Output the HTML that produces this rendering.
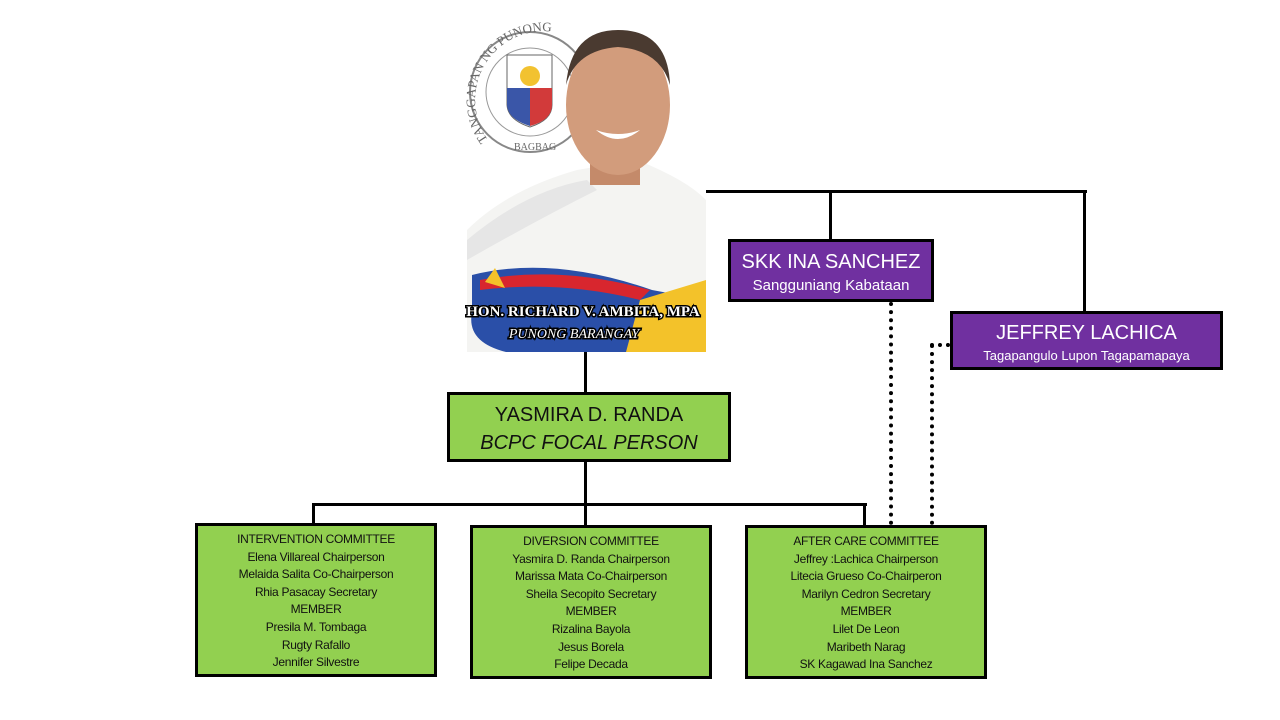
<!DOCTYPE html>
<html><head><meta charset="utf-8"><style>
body{margin:0;width:1280px;height:720px;background:#fff;position:relative;overflow:hidden;font-family:"Liberation Sans",sans-serif}
.b{position:absolute;box-sizing:border-box;border:3px solid #000;text-align:center;color:#fff}
.p{background:#7030A0}
.g{background:#92D050;color:#111}
.c{font-size:12px;line-height:17.6px;padding-top:5px;letter-spacing:-0.3px}
.l{position:absolute;background:#000}
.d{position:absolute;border-left:4px dotted #000}
</style></head><body>
<svg style="position:absolute;left:0;top:0" width="1280" height="720">
 <defs><path id="arc" d="M488 140 A52 52 0 1 1 600 60"/></defs>
 <!-- seal -->
 <circle cx="530" cy="92" r="60" fill="#fff" stroke="#888" stroke-width="2"/>
 <circle cx="530" cy="92" r="44" fill="none" stroke="#999" stroke-width="1"/>
 <text font-family="Liberation Serif" font-size="13" fill="#666"><textPath href="#arc">TANGGAPAN NG PUNONG</textPath></text>
 <text x="514" y="150" font-family="Liberation Serif" font-size="10" fill="#666">BAGBAG</text>
 <path d="M507 55 h45 v50 q0 15 -22 22 q-22 -7 -23 -22z" fill="#fff" stroke="#666"/>
 <path d="M507 88 h23 v38 q-23 -7 -23 -22z" fill="#3a56a8"/>
 <path d="M530 88 h22 v17 q0 15 -22 21z" fill="#d23a3a"/>
 <circle cx="530" cy="76" r="10" fill="#f2c230"/>
 <!-- person -->
 <path d="M467 230 q40 -40 110 -60 l60 -10 q50 20 69 40 v152 h-239z" fill="#f4f4f2"/>
 <path d="M467 240 q60 -50 120 -60 l10 10 q-60 30 -130 70z" fill="#e6e6e6"/>
 <rect x="590" y="140" width="50" height="45" fill="#c48a6a"/>
 <ellipse cx="618" cy="105" rx="52" ry="70" fill="#d29c7c"/>
 <path d="M566 85 q5 -55 52 -55 q50 0 52 55 q-10 -35 -52 -38 q-42 3 -52 38z" fill="#4a3a30"/>
 <path d="M596 130 q22 18 44 0 q-22 8 -44 0z" fill="#fff"/>
 <path d="M472 275 q80 -20 180 15 l54 10 v52 h-200 q-40 -10 -34 -40z" fill="#2a4fa8"/>
 <path d="M480 280 q80 -15 170 10 l-10 10 q-80 -20 -160 -10z" fill="#d8262e"/>
 <path d="M640 300 l66 -20 v72 h-80z" fill="#f3c22a"/>
 <polygon points="495,268 505,288 485,282" fill="#f3c22a"/>
 <text x="583" y="316" text-anchor="middle" font-family="Liberation Serif" font-weight="bold" font-size="15" fill="#fff" stroke="#000" stroke-width="3" paint-order="stroke">HON. RICHARD V. AMBITA, MPA</text>
 <text x="574" y="338" text-anchor="middle" font-family="Liberation Serif" font-style="italic" font-size="14" fill="#fff" stroke="#000" stroke-width="3" paint-order="stroke">PUNONG BARANGAY</text>
</svg>
<div class="l" style="left:706px;top:190px;width:381px;height:3px"></div>
<div class="l" style="left:829px;top:190px;width:3px;height:50px"></div>
<div class="l" style="left:1083px;top:190px;width:3px;height:122px"></div>
<div class="l" style="left:584px;top:352px;width:3px;height:41px"></div>
<div class="l" style="left:584px;top:460px;width:3px;height:46px"></div>
<div class="l" style="left:312px;top:503px;width:555px;height:3px"></div>
<div class="l" style="left:312px;top:503px;width:3px;height:21px"></div>
<div class="l" style="left:584px;top:503px;width:3px;height:23px"></div>
<div class="l" style="left:863px;top:503px;width:3px;height:23px"></div>
<div class="d" style="left:889px;top:302px;height:223px"></div>
<div class="d" style="left:930px;top:344px;height:181px"></div>
<div style="position:absolute;left:930px;top:343px;width:20px;border-top:4px dotted #000"></div>
<div class="b p" style="left:728px;top:239px;width:206px;height:63px;padding-top:7px"><div style="font-size:20px;line-height:26px">SKK INA SANCHEZ</div><div style="font-size:15px;line-height:22px">Sangguniang Kabataan</div></div>
<div class="b p" style="left:950px;top:311px;width:273px;height:59px;padding-top:6px"><div style="font-size:20px;line-height:26px">JEFFREY LACHICA</div><div style="font-size:13px;line-height:20px">Tagapangulo Lupon Tagapamapaya</div></div>
<div class="b g" style="left:447px;top:392px;width:284px;height:70px;padding-top:6px;font-size:20px;line-height:28px"><div>YASMIRA D. RANDA</div><div style="font-style:italic">BCPC FOCAL PERSON</div></div>
<div class="b g c" style="left:195px;top:523px;width:242px;height:154px">INTERVENTION COMMITTEE<br>Elena Villareal Chairperson<br>Melaida Salita Co-Chairperson<br>Rhia Pasacay Secretary<br>MEMBER<br>Presila M. Tombaga<br>Rugty Rafallo<br>Jennifer Silvestre</div>
<div class="b g c" style="left:470px;top:525px;width:242px;height:154px">DIVERSION COMMITTEE<br>Yasmira D. Randa Chairperson<br>Marissa Mata Co-Chairperson<br>Sheila Secopito Secretary<br>MEMBER<br>Rizalina Bayola<br>Jesus Borela<br>Felipe Decada</div>
<div class="b g c" style="left:745px;top:525px;width:242px;height:154px">AFTER CARE COMMITTEE<br>Jeffrey :Lachica Chairperson<br>Litecia Grueso Co-Chairperon<br>Marilyn Cedron Secretary<br>MEMBER<br>Lilet De Leon<br>Maribeth Narag<br>SK Kagawad Ina Sanchez</div>
</body></html>
